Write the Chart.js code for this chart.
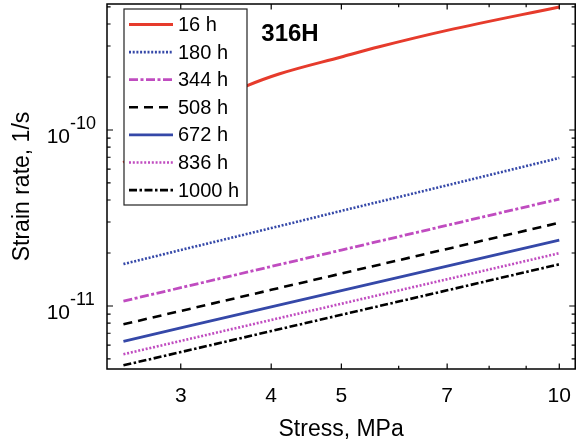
<!DOCTYPE html>
<html>
<head>
<meta charset="utf-8">
<script src="https://cdn.jsdelivr.net/npm/chart.js@4.4.1/dist/chart.umd.min.js"></script>
<style>
  html, body { margin: 0; padding: 0; background: #ffffff; }
  #wrap { width: 578px; height: 446px; }
</style>
</head>
<body>
<div id="wrap"><canvas id="c" width="578" height="446"></canvas></div>
<script>
// ---- data ----
const seriesLabels = ['16 h', '180 h', '344 h', '508 h', '672 h', '836 h', '1000 h'];
const stress16 = [2.5, 2.8, 3.2, 3.7, 4.1, 5, 5.64, 7, 10];
const rate16 = [6.5e-11, 9.8e-11, 1.33e-10, 1.78e-10, 2.08e-10, 2.6e-10, 2.97e-10, 3.68e-10, 5.0e-10];
const stress = [2.5, 3, 4, 5, 7, 10];
const rate180 = [1.73e-11, 2.08e-11, 2.77e-11, 3.47e-11, 4.85e-11, 6.93e-11];
const rate344 = [1.066e-11, 1.27e-11, 1.676e-11, 2.078e-11, 2.873e-11, 4.05e-11];
const rate508 = [7.87e-12, 9.37e-12, 1.235e-11, 1.529e-11, 2.11e-11, 2.97e-11];
const rate672 = [6.30e-12, 7.50e-12, 9.87e-12, 1.222e-11, 1.685e-11, 2.37e-11];
const rate836 = [5.32e-12, 6.33e-12, 8.33e-12, 1.03e-11, 1.419e-11, 1.995e-11];
const rate1000 = [4.60e-12, 5.47e-12, 7.20e-12, 8.91e-12, 1.227e-11, 1.726e-11];
const xTickValues = [3, 4, 5, 7, 10];
const xMinorValues = [6, 8, 9];
const yTickValues = [1e-11, 1e-10];
const yTickExponents = ['-11', '-10'];
const annotationText = '316H';
const xTitle = 'Stress, MPa';
const yTitle = 'Strain rate, 1/s';

const FONT = "'Liberation Sans', Arial, Helvetica, sans-serif";
const RED = '#e63b2c', BLUE = '#3548a8', MAG = '#c04cc0', BLACK = '#000000';

function pts(xs, ys) { return xs.map((x, i) => ({ x: x, y: ys[i] })); }

const styles = [
  { c: RED, w: 3, d: [] },
  { c: BLUE, w: 2.6, d: [2, 1.7] },
  { c: MAG, w: 2.8, d: [9, 2.5, 3, 2.5] },
  { c: BLACK, w: 2.6, d: [9, 6] },
  { c: BLUE, w: 2.8, d: [] },
  { c: MAG, w: 2.6, d: [2, 1.8] },
  { c: BLACK, w: 2.6, d: [8, 2.5, 2.5, 2.5] }
];
const seriesData = [pts(stress16, rate16), pts(stress, rate180), pts(stress, rate344), pts(stress, rate508),
                    pts(stress, rate672), pts(stress, rate836), pts(stress, rate1000)];

const datasets = seriesLabels.map((lab, i) => ({
  label: lab,
  data: seriesData[i],
  showLine: true,
  borderColor: styles[i].c,
  backgroundColor: styles[i].c,
  borderWidth: styles[i].w,
  borderDash: styles[i].d,
  borderCapStyle: 'butt',
  pointRadius: 0,
  pointHoverRadius: 0,
  fill: false,
  cubicInterpolationMode: i === 0 ? 'monotone' : 'default',
  tension: 0
}));

const framePlugin = {
  id: 'frameTicksLegend',
  afterDatasetsDraw(chart) {
    const ctx = chart.ctx;
    const a = chart.chartArea;
    const xs = chart.scales.x, ys = chart.scales.y;
    ctx.save();
    // frame
    ctx.strokeStyle = '#000';
    ctx.lineWidth = 1.5;
    ctx.setLineDash([]);
    ctx.strokeRect(a.left, a.top, a.right - a.left, a.bottom - a.top);
    // x ticks (bottom and top, inward)
    ctx.lineWidth = 1.2;
    const xt = (v, len) => {
      const p = xs.getPixelForValue(v);
      ctx.beginPath();
      ctx.moveTo(p, a.bottom); ctx.lineTo(p, a.bottom - len);
      ctx.moveTo(p, a.top); ctx.lineTo(p, a.top + len);
      ctx.stroke();
    };
    xTickValues.forEach(v => xt(v, 5.5));
    xMinorValues.forEach(v => xt(v, 3.2));
    // y ticks (left and right, inward)
    const yt = (v, len) => {
      const p = ys.getPixelForValue(v);
      if (p < a.top - 0.5 || p > a.bottom + 0.5) return;
      ctx.beginPath();
      ctx.moveTo(a.left, p); ctx.lineTo(a.left + len, p);
      ctx.moveTo(a.right, p); ctx.lineTo(a.right - len, p);
      ctx.stroke();
    };
    [-12, -11, -10].forEach(e => {
      for (let m = 1; m <= 9; m++) {
        const v = m * Math.pow(10, e);
        if (v < ys.min || v > ys.max) continue;
        yt(v, m === 1 ? 6 : 3.6);
      }
    });
    // y tick labels with superscript exponent
    ctx.fillStyle = '#000';
    yTickValues.forEach((v, i) => {
      const p = ys.getPixelForValue(v);
      ctx.font = '21px ' + FONT;
      ctx.textAlign = 'right';
      ctx.textBaseline = 'alphabetic';
      ctx.fillText('10', 70, p + 13.5);
      ctx.font = '18px ' + FONT;
      ctx.textAlign = 'left';
      ctx.fillText(yTickExponents[i], 70, p - 1);
    });
    // annotation
    ctx.font = 'bold 24px ' + FONT;
    ctx.textAlign = 'center';
    ctx.textBaseline = 'middle';
    ctx.fillText(annotationText, 290, 34);
    // legend box
    const L = 124, T = 9, R = 247, B = 205;
    ctx.fillStyle = '#fff';
    ctx.fillRect(L, T, R - L, B - T);
    ctx.strokeStyle = '#222';
    ctx.lineWidth = 1.2;
    ctx.strokeRect(L, T, R - L, B - T);
    chart.data.datasets.forEach((ds, i) => {
      const y = 24.5 + i * 27.6;
      ctx.save();
      ctx.strokeStyle = ds.borderColor;
      ctx.lineWidth = ds.borderWidth;
      ctx.lineCap = 'butt';
      ctx.setLineDash(ds.borderDash);
      ctx.beginPath();
      ctx.moveTo(129, y); ctx.lineTo(173, y);
      ctx.stroke();
      ctx.restore();
      ctx.fillStyle = '#000';
      ctx.font = '20px ' + FONT;
      ctx.textAlign = 'left';
      ctx.textBaseline = 'middle';
      ctx.fillText(ds.label, 178, y + 1);
    });
    ctx.restore();
  }
};

new Chart(document.getElementById('c'), {
  type: 'scatter',
  data: { datasets: datasets },
  options: {
    responsive: false,
    animation: false,
    devicePixelRatio: 1,
    layout: { padding: { left: 0, right: 1, top: 4, bottom: 0 } },
    plugins: { legend: { display: false }, tooltip: { enabled: false } },
    scales: {
      x: {
        type: 'logarithmic',
        min: 2.3727,
        max: 10.52,
        grid: { display: false },
        border: { display: false },
        afterBuildTicks: (s) => { s.ticks = xTickValues.map(v => ({ value: v })); },
        afterFit: (s) => { s.height = 77; },
        ticks: {
          autoSkip: false,
          maxRotation: 0,
          padding: 7,
          color: '#000',
          font: { family: FONT, size: 21 },
          callback: (v) => String(v)
        },
        title: {
          display: true,
          text: xTitle,
          color: '#000',
          font: { family: FONT, size: 23 },
          padding: { top: 0, bottom: 3 }
        }
      },
      y: {
        type: 'logarithmic',
        min: 4.385e-12,
        max: 5.198e-10,
        grid: { display: false },
        border: { display: false },
        ticks: { display: false },
        afterFit: (s) => { s.width = 107; },
        title: {
          display: true,
          text: yTitle,
          color: '#000',
          font: { family: FONT, size: 23 },
          padding: { top: 9, bottom: 0 }
        }
      }
    }
  },
  plugins: [framePlugin]
});
</script>
</body>
</html>
